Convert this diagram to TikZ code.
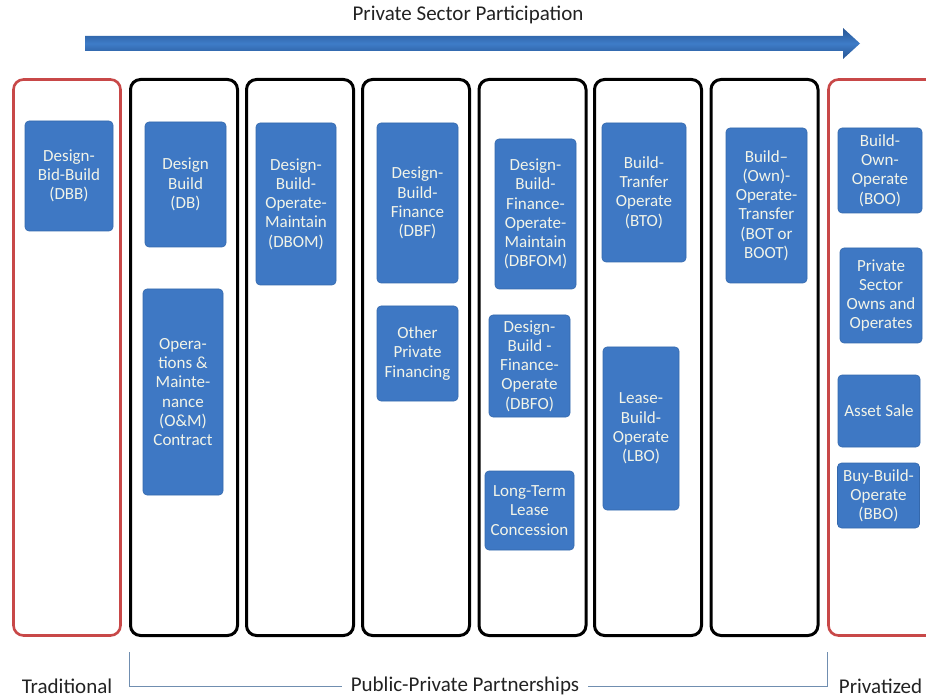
\documentclass[tikz,border=0pt]{standalone}
\usepackage{fontspec}
\setmainfont{Carlito}
\usepackage{tikz}
\usetikzlibrary{calc,positioning}
\definecolor{boxblue}{RGB}{62,120,196}
\definecolor{boxedge}{RGB}{52,104,172}
\definecolor{boxtext}{RGB}{242,244,232}
\definecolor{arrowblue}{RGB}{62,124,200}
\definecolor{arrowdark}{RGB}{38,84,146}
\definecolor{tradred}{RGB}{200,72,72}
\definecolor{bracketcol}{RGB}{112,142,176}
\definecolor{labelgray}{RGB}{34,34,34}
\tikzset{
  col/.style={draw=black,line width=3pt,rounded corners=10pt,minimum width=107pt,minimum height=556pt,inner sep=0pt},
  redcol/.style={col,draw=tradred,line width=2.6pt},
  box/.style={fill=boxblue,draw=boxedge,line width=.6pt,rounded corners=4pt,text=boxtext,align=center,inner sep=0pt,font=\fontsize{17}{19.2}\selectfont},
  biglabel/.style={text=labelgray,font=\fontsize{21}{24}\selectfont},
  bracket/.style={draw=bracketcol,line width=1pt}
}

\begin{document}
\begin{tikzpicture}[x=1pt,y=-1pt]
\useasboundingbox (0,0) rectangle (926,700);
%arrow
\node[biglabel] (title) at (468,15) {Private Sector Participation};
\shade[top color=arrowdark,bottom color=arrowdark,middle color=arrowblue]
  (85,36)--(843,36)--(843,28)--(860,43.5)--(843,59)--(843,51)--(85,51)--cycle;
%columns
\node[redcol] (trad) at (67,357.5){};
\foreach \x [count=\i] in {184,300,416,532.5,648,764.5}
{
\node[col] (col\i) at (\x,357.5){};
}
\node[redcol] (priv) at (882,357.5){};
%traditional
\node[box,minimum width=88pt,minimum height=110pt] (dbb) at (69,176){Design-\\Bid-Build\\(DBB)};
%public-private
\node[box,minimum width=81pt,minimum height=125pt] (db) at (185.5,184.5){Design\\Build\\(DB)};
\node[box,minimum width=80pt,minimum height=206pt] (om) at (183,392){Opera-\\tions \&\\Mainte-\\nance\\(O\&M)\\Contract};
\node[box,minimum width=80pt,minimum height=162pt] (dbom) at (296,204){Design-\\Build-\\Operate-\\Maintain\\(DBOM)};
\node[box,minimum width=81pt,minimum height=160pt] (dbf) at (417.5,203){Design-\\Build-\\Finance\\(DBF)};
\node[box,minimum width=81pt,minimum height=95pt] (opf) at (417.5,353.5){Other\\Private\\Financing};
\node[box,minimum width=81pt,minimum height=150pt] (dbfom) at (535.5,214){Design-\\Build-\\Finance-\\Operate-\\Maintain\\(DBFOM)};
\node[box,minimum width=81pt,minimum height=102pt] (dbfo) at (529.5,366){Design-\\Build -\\Finance-\\Operate\\(DBFO)};
\node[box,minimum width=89pt,minimum height=79pt] (ltlc) at (529.5,510.5){Long-Term\\Lease\\Concession};
\node[box,minimum width=84pt,minimum height=139pt] (bto) at (644,192.5){Build-\\Tranfer\\Operate\\(BTO)};
\node[box,minimum width=76pt,minimum height=163pt] (lbo) at (641,428.5){Lease-\\Build-\\Operate\\(LBO)};
\node[box,minimum width=81pt,minimum height=155pt] (bot) at (766.5,205.5){Build--\\(Own)-\\Operate-\\Transfer\\(BOT or\\BOOT)};
%privatized
\node[box,minimum width=84pt,minimum height=85pt] (boo) at (880,170.5){Build-\\Own-\\Operate\\(BOO)};
\node[box,minimum width=82pt,minimum height=95pt] (psoo) at (881,295.5){Private\\Sector\\Owns and\\Operates};
\node[box,minimum width=82pt,minimum height=72pt] (asale) at (879,411){Asset Sale};
\node[box,minimum width=82pt,minimum height=65pt] (bbo) at (878.5,495.5){Buy-Build-\\Operate\\(BBO)};
%labels and such
\node[biglabel] (tradlabel) at (67,686){Traditional};
\node[biglabel,inner xsep=9pt] (ppp) at (465,686){Public-Private Partnerships};
\node[biglabel] (privlabel) at (880.5,686){Privatized};
\draw[bracket](ppp.west)--(ppp.west -| col1.south west)--([yshift=-15pt]col1.south west);
\draw[bracket](ppp.east)--(ppp.east -| priv.south west)--([yshift=-15pt]priv.south west);
\end{tikzpicture}
\end{document}
